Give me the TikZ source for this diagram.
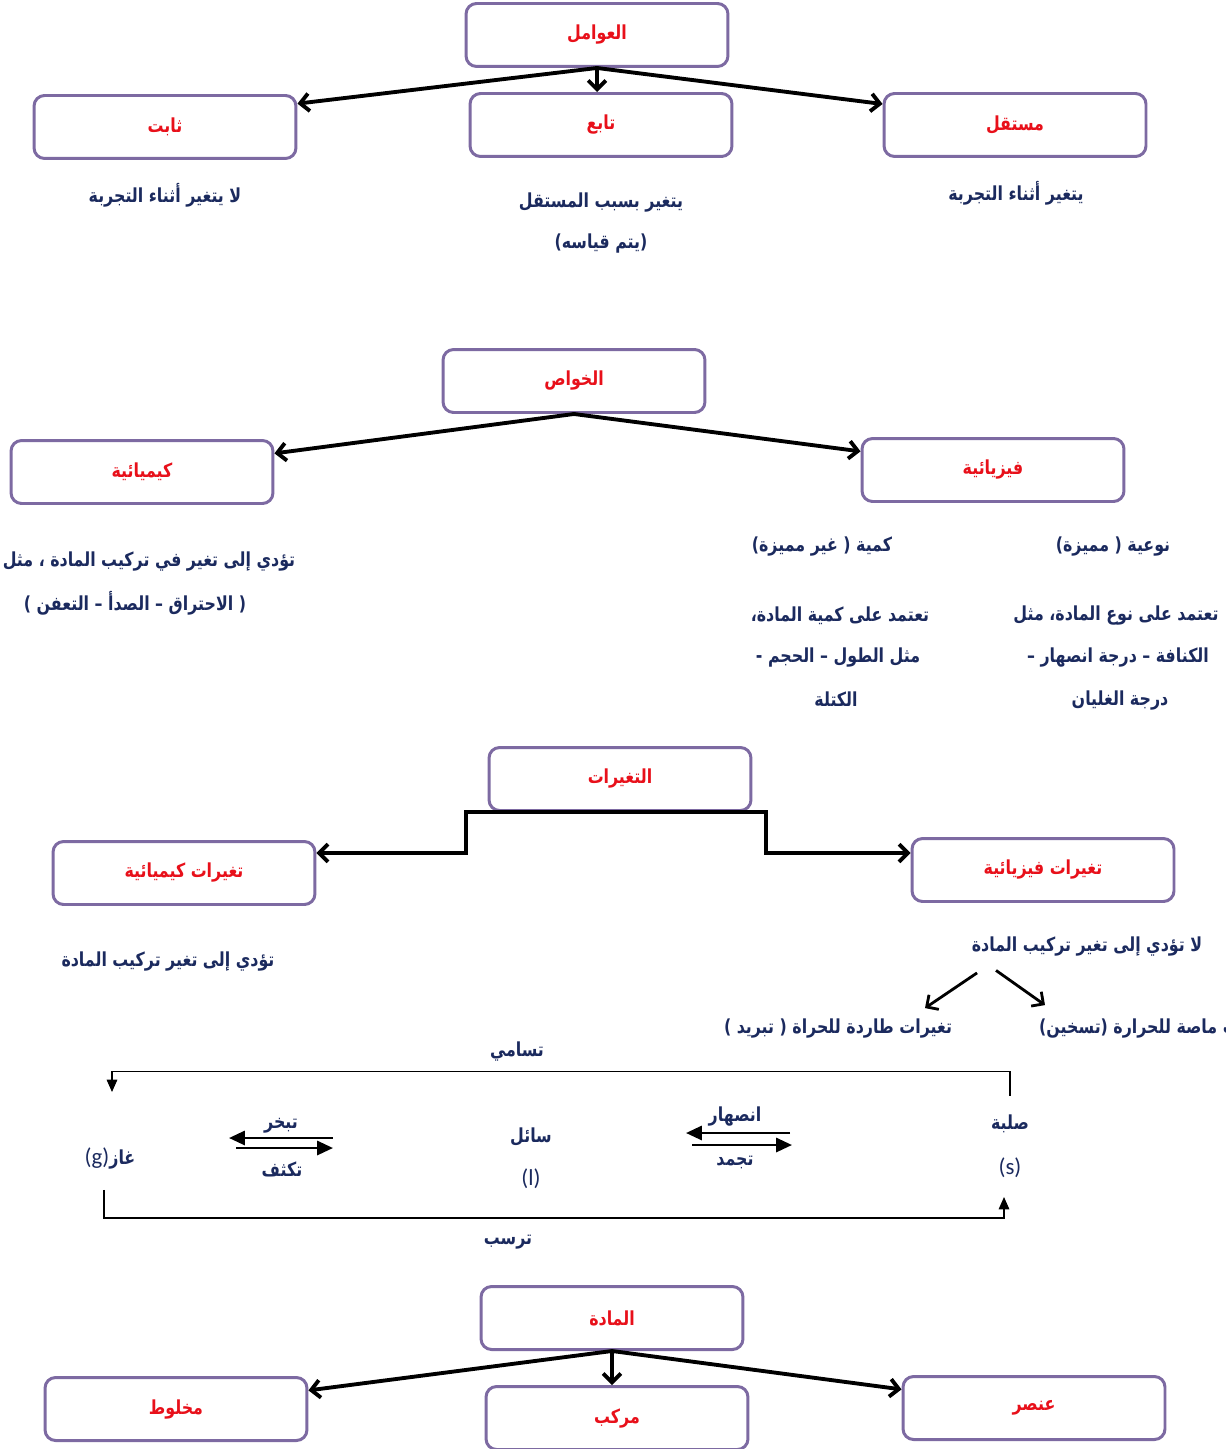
\documentclass[tikz,border=0pt]{standalone}
\usepackage{fontspec}
\setmainfont{Carlito}
\newfontfamily\arabicfont[Script=Arabic,FakeStretch=0.82]{DejaVu Sans}
\TeXXeTstate=1
\usetikzlibrary{arrows.meta}

\definecolor{boxpurple}{HTML}{7D6AA2}
\definecolor{boxred}{HTML}{E8101A}
\definecolor{notenavy}{HTML}{1B2A5E}

\begin{document}
\begin{tikzpicture}[x=0.02cm, y=-0.02cm,
  box/.style={draw=boxpurple, line width=1.7pt, rounded corners=6pt, fill=white,
    minimum width=5.24cm, minimum height=1.26cm, text=boxred,
    font=\arabicfont\bfseries\fontsize{11}{13}\selectfont},
  note/.style={text=notenavy, font=\arabicfont\bfseries\fontsize{11}{13}\selectfont},
  latin/.style={text=notenavy, font=\fontsize{13}{15}\selectfont},
  link/.style={line width=2.2pt, -{Straight Barb[length=5pt,width=10pt]}},
  stateline/.style={line width=0.7pt, -{Triangle[length=7pt,width=6pt]}},
  phaseline/.style={line width=1.5pt, -{Triangle[length=9pt,width=8pt]}}]

\clip (0,0) rectangle (1225,1449);

% ---- Factors ----
\node[box] (awamil) at (597,35) {\beginR العوامل\endR};
\node[box] (thabit) at (165,127) {\beginR ثابت\endR};
\node[box] (tabi) at (601,125) {\beginR تابع\endR};
\node[box] (mustaqil) at (1015,125) {\beginR مستقل\endR};

\draw[link] (awamil.south) -- (thabit.10);
\draw[link] (awamil.south) -- (awamil.south |- tabi.north);
\draw[link] (awamil.south) -- (mustaqil.171);

\node[note] (thabitnote) at (165,195) {\beginR لا يتغير أثناء التجربة\endR};
\node[note] (tabinote) at (601,203) {\beginR يتغير بسبب المستقل\endR};
\node[note] (tabinote2) at (601,244) {\beginR (يتم قياسه)\endR};
\node[note] (mustaqilnote) at (1016,193) {\beginR يتغير أثناء التجربة\endR};

% ---- Properties ----
\node[box] (khawas) at (574,381) {\beginR الخواص\endR};
\node[box] (kimia) at (142,472) {\beginR كيميائية\endR};
\node[box] (fizia) at (993,470) {\beginR فيزيائية\endR};

\draw[link] (khawas.south) -- (kimia.8);
\draw[link] (khawas.south) -- (fizia.172);

\node[note] (kimianote) at (149,562) {\beginR تؤدي إلى تغير في تركيب المادة ، مثل\endR};
\node[note] (kimianote2) at (135,603) {\beginR ( الاحتراق – الصدأ – التعفن )\endR};

\node[note] (kamia) at (822,547) {\beginR كمية ( غير مميزة)\endR};
\node[note] (kamianote) at (840,616) {\beginR تعتمد على كمية المادة،\endR};
\node[note] (kamianote2) at (838,658) {\beginR مثل الطول – الحجم -\endR};
\node[note] (kamianote3) at (836,699) {\beginR الكتلة\endR};

\node[note] (nawia) at (1113,547) {\beginR نوعية ( مميزة)\endR};
\node[note] (nawianote) at (1116,616) {\beginR تعتمد على نوع المادة، مثل\endR};
\node[note] (nawianote2) at (1118,658) {\beginR الكنافة – درجة انصهار –\endR};
\node[note] (nawianote3) at (1120,701) {\beginR درجة الغليان\endR};

% ---- Changes ----
\node[box] (taghayyurat) at (620,779) {\beginR التغيرات\endR};
\node[box] (kimia2) at (184,873) {\beginR تغيرات كيميائية\endR};
\node[box] (fizia2) at (1043,870) {\beginR تغيرات فيزيائية\endR};

\draw[link] (taghayyurat.south) -| ++(-154,41) -- ([yshift=0.4cm]kimia2.east);
\draw[link] (taghayyurat.south) -| ++(146,41) -- ([yshift=0.34cm]fizia2.west);

\node[note] (kimia2note) at (168,962) {\beginR تؤدي إلى تغير تركيب المادة\endR};
\node[note] (fizia2note) at (1087,947) {\beginR لا تؤدي إلى تغير تركيب المادة\endR};
\node[note] (tarida) at (838,1029) {\beginR تغيرات طاردة للحراة ( تبريد )\endR};
\node[note, anchor=west] (masa) at (1033,1029) {\beginR تغيرات ماصة للحرارة (تسخين)\endR};

\draw[link, line width=1.6pt] ([xshift=-2.2cm,yshift=-0.2cm]fizia2note.south) -- ([xshift=1.74cm,yshift=0.1cm]tarida.north);
\draw[link, line width=1.6pt] ([xshift=-1.82cm,yshift=-0.15cm]fizia2note.south) -- ([xshift=0.24cm,yshift=0.16cm]masa.north west);

% ---- States of matter ----
\node[note] (tasami) at (517,1052) {\beginR تسامي\endR};
\node[note] (sulba) at (1010,1124) {\beginR صلبة\endR};
\node[latin] (snode) at (1010,1168) {(s)};
\node[note] (insihar) at (735,1117) {\beginR انصهار\endR};
\node[note] (tajammud) at (735,1162) {\beginR تجمد\endR};
\node[note] (sail) at (531,1137) {\beginR سائل\endR};
\node[latin] (lnode) at (531,1179) {(l)};
\node[note] (tabakhkhur) at (281,1126) {\beginR تبخر\endR};
\node[note] (takathuf) at (282,1169) {\beginR تكثف\endR};
\node[note] (ghaz) at (110,1158) {\beginR غاز\beginL{\normalfont\mdseries\fontsize{13}{15}\selectfont(g)}\endL\endR};
\node[note] (tarassub) at (508,1242) {\beginR ترسب\endR};

\coordinate (gastop) at (112,1092);
\draw[stateline] ([yshift=0.26cm]sulba.north) -- ++(0,-24) -| (gastop);
\coordinate (solidbot) at (1004,1197);
\draw[stateline] ([xshift=-0.12cm,yshift=-0.3cm]ghaz.south) -- ++(0,28) -| (solidbot);

\draw[phaseline] ([xshift=1.1cm,yshift=-0.32cm]insihar.center) -- ([xshift=-0.98cm,yshift=-0.32cm]insihar.center);
\draw[phaseline] ([xshift=-0.86cm,yshift=0.34cm]tajammud.center) -- ([xshift=1.14cm,yshift=0.34cm]tajammud.center);
\draw[phaseline] ([xshift=1.04cm,yshift=-0.24cm]tabakhkhur.center) -- ([xshift=-1.04cm,yshift=-0.24cm]tabakhkhur.center);
\draw[phaseline] ([xshift=-0.92cm,yshift=0.42cm]takathuf.center) -- ([xshift=1.02cm,yshift=0.42cm]takathuf.center);

% ---- Matter ----
\node[box] (madda) at (612,1318) {\beginR المادة\endR};
\node[box] (makhlut) at (176,1409) {\beginR مخلوط\endR};
\node[box] (murakkab) at (617,1418) {\beginR مركب\endR};
\node[box] (unsur) at (1034,1408) {\beginR عنصر\endR};

\draw[link] (madda.south) -- (makhlut.8);
\draw[link] (madda.south) -- (madda.south |- murakkab.north);
\draw[link] (madda.south) -- (unsur.172);

\end{tikzpicture}
\end{document}
